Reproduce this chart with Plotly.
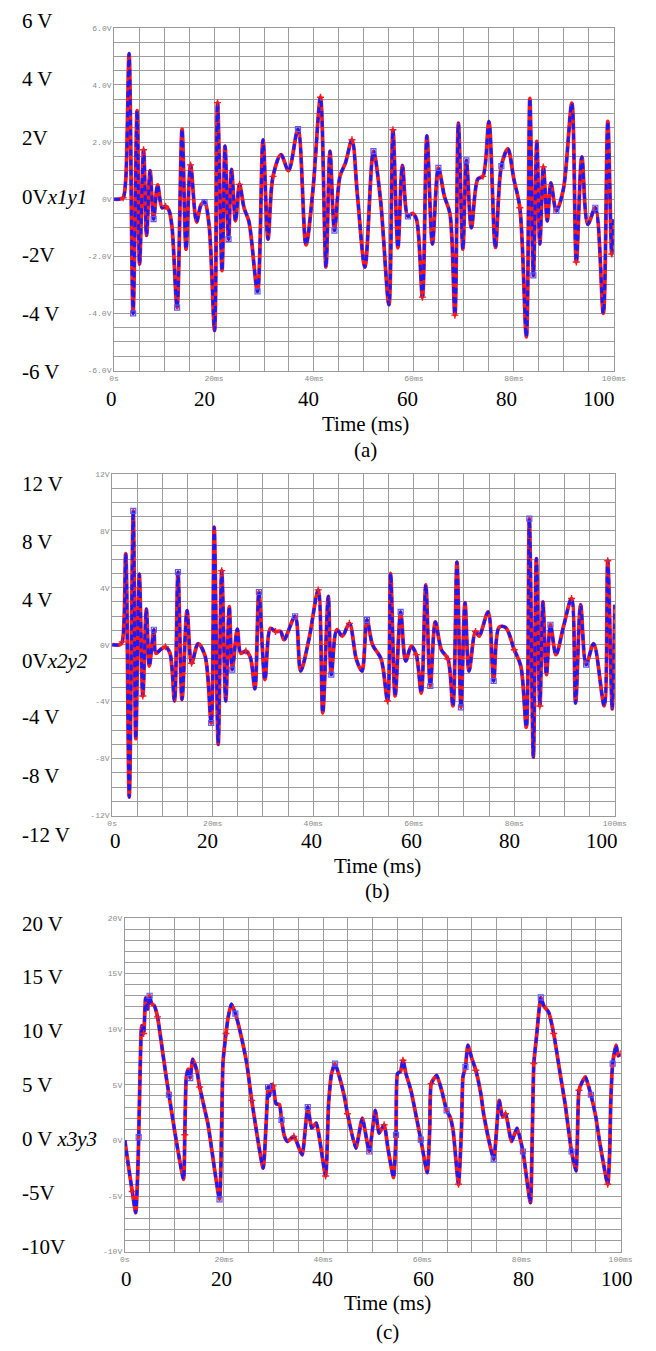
import plotly.graph_objects as go

W, H = 656, 1351

# ---------------- data (time in ms, voltage in V) ----------------
t_a = [0, 1.0, 1.8, 2.3, 3.0, 3.8, 4.6, 5.1, 5.9, 6.5,
       7.2, 7.9, 8.7, 9.6, 10.3, 11.0, 11.6, 12.6, 13.6, 14.4,
       15.3, 16.5, 17.4, 18.1, 19.0, 20.1, 20.7, 21.6, 22.2, 22.9,
       23.5, 24.3, 25.1, 26.0, 27.0, 28.7, 29.8, 30.8, 31.8, 33.4,
       34.9, 36.8, 38.4, 39.8, 41.3, 42.4, 43.2, 44.1, 45.2, 46.3,
       47.6, 48.7, 50.2, 51.9, 53.3, 55.0, 55.8, 56.8, 57.7, 58.8,
       59.7, 60.5, 61.7, 62.6, 63.7, 64.9, 66.1, 67.2, 68.2, 68.9,
       69.8, 70.5, 71.5, 72.8, 73.8, 75.0, 76.3, 77.5, 78.8, 80.0,
       81.2, 82.5, 83.2, 83.9, 84.6, 85.2, 85.9, 86.7, 87.4, 88.5,
       89.9, 91.6, 92.5, 93.6, 94.8, 96.3, 97.9, 98.8, 99.6, 100]
v_a = [0, 0, 0.05, 0.6, 5.1, -4.0, 3.1, -2.27, 1.73, -1.27,
       1.0, -0.7, 0.5, -0.3, -0.25, -0.4, -1.0, -3.8, 2.45, -1.75,
       1.2, -0.8, -0.2, -0.1, -0.9, -4.6, 3.38, -2.5, 1.86, -1.4,
       1.04, -0.76, 0.52, -0.3, -0.8, -3.23, 2.08, -1.4, 0.8, 1.56,
       1.0, 2.45, -1.6, 0.34, 3.57, -2.38, 1.68, -1.1, 0.8, 1.27,
       2.08, 0.12, -2.38, 1.68, 0.0, -3.7, 2.43, -1.7, 1.18, -0.6,
       -0.5, -0.7, -3.43, 2.22, -1.57, 1.1, 0.1, -0.5, -4.06, 2.66,
       -1.75, 1.36, -1.0, 0.71, 0.8, 2.72, -1.69, 1.16, 1.76, 0.7,
       -0.3, -4.82, 3.53, -2.67, 2.02, -1.57, 1.13, -0.76, 0.57, -0.41,
       0.34, 3.36, -2.2, 1.48, -0.88, -0.3, -4.0, 2.72, -1.92, -0.7]

t_b = [0, 1.5, 2.0, 2.7, 3.4, 4.2, 4.7, 5.4, 6.1, 6.8,
       7.4, 8.3, 8.7, 9.6, 10.6, 11.5, 12.4, 13.1, 13.9, 14.9,
       15.8, 17.1, 18.5, 19.7, 20.3, 21.1, 21.8, 22.6, 23.3, 23.9,
       24.9, 25.6, 26.6, 27.5, 28.4, 29.2, 30.4, 31.5, 32.5, 33.5,
       34.2, 36.4, 37.5, 39.2, 41.0, 41.9, 43.0, 43.6, 44.7, 45.8,
       47.2, 48.6, 49.7, 50.7, 51.8, 53.5, 54.8, 55.4, 56.3, 57.4,
       58.4, 59.5, 60.5, 61.5, 62.4, 63.3, 64.3, 65.5, 66.8, 67.8,
       68.6, 69.4, 70.2, 71.0, 72.3, 73.0, 74.8, 75.9, 77.0, 78.3,
       80.0, 81.3, 82.4, 83.0, 83.8, 84.4, 85.1, 85.7, 86.4, 87.2,
       88.3, 89.8, 91.4, 92.2, 93.2, 94.3, 95.8, 97.9, 98.6, 99.5, 100]
v_b = [0, 0, 0.2, 6.4, -10.7, 9.4, -6.6, 4.95, -3.6, 2.5,
       -1.5, 1.05, -0.6, -0.35, -0.15, -0.6, -3.95, 5.1, -3.85, 2.4,
       -1.3, 0.07, -0.8, -5.5, 8.25, -7.0, 5.2, -3.95, 2.67, -1.75,
       1.1, -0.6, -0.45, -0.9, -3.1, 3.7, -2.45, 1.15, 0.93, 0.93,
       0.35, 2.0, -1.85, 0.47, 3.85, -4.8, 3.4, -2.1, 1.05, 0.6,
       1.5, -1.05, -1.85, 1.75, 0.0, -1.0, -3.95, 5.0, -3.6, 2.3,
       -1.15, -0.1, -0.7, -3.4, 4.2, -2.9, 1.6, -0.35, -1.0, -4.3,
       5.8, -4.4, 2.95, -1.85, 0.93, 0.6, 2.3, -2.55, 1.23, 1.2,
       -0.35, -1.5, -5.8, 8.85, -7.9, 6.05, -4.3, 3.0, -2.1, 1.4,
       -0.7, 1.28, 3.25, -4.1, 2.8, -1.4, 0.07, -4.3, 5.9, -4.5, 2.8]

t_c = [0, 0.7, 1.5, 2.2, 2.6, 2.8, 3.1, 3.4, 3.8, 4.2,
       4.6, 5.0, 5.4, 5.95, 6.6, 7.3, 8.25, 8.9, 10.4, 11.85,
       12.1, 12.4, 12.8, 13.2, 13.7, 14.5, 15.1, 16.1, 16.8, 19.1,
       19.5, 19.8, 20.4, 20.9, 21.5, 22.3, 23.3, 24.6, 25.6, 27.9,
       28.5, 28.9, 29.2, 29.5, 29.9, 30.5, 31.2, 31.6, 32.2, 32.8,
       34.1, 35.4, 35.8, 36.9, 37.7, 38.6, 40.5, 41.1, 41.7, 42.4,
       43.3, 44.3, 44.9, 46.6, 47.9, 49.3, 50.5, 51.3, 52.3, 53.1,
       54.2, 54.7, 55.0, 55.6, 56.1, 56.7, 57.7, 59.7, 61.0, 61.5,
       61.8, 62.9, 63.9, 64.9, 65.6, 66.2, 67.3, 67.9, 68.2, 68.7,
       69.2, 70.0, 70.8, 71.8, 72.4, 74.4, 75.5, 76.2, 76.8, 78.0,
       79.1, 80.3, 81.8, 82.2, 82.5, 83.1, 83.5, 83.9, 84.5, 85.5,
       86.5, 87.8, 88.8, 90.1, 91.0, 91.3, 91.6, 92.3, 92.9, 94.0,
       95.0, 95.7, 97.4, 97.8, 98.0, 98.4, 99.1, 99.5, 100]
v_c = [0, -2.2, -4.6, -6.5, -3.0, 0.3, 6.5, 10.3, 9.6, 12.8,
       11.8, 13.0, 12.3, 12.1, 11.1, 9.0, 6.0, 4.1, -0.1, -3.5,
       0.5, 5.7, 6.4, 5.6, 7.3, 6.3, 4.8, 2.8, 1.4, -5.3,
       0.5, 7.0, 9.6, 11.2, 12.25, 11.4, 9.7, 6.9, 3.6, -2.5,
       1.5, 4.8, 4.0, 5.0, 4.9, 3.3, 3.2, 1.85, 0.36, -0.1,
       0.36, -1.0, -1.3, 3.0, 1.1, 1.55, -3.2, 3.3, 6.0, 6.9,
       5.7, 3.9, 2.4, -0.7, 2.0, -1.0, 2.7, 0.65, 1.4, -0.8,
       -3.35, 0.5, 6.0, 6.2, 7.2, 6.0, 4.5, 0.06, -2.9, 1.0,
       5.1, 5.85, 4.5, 2.7, 2.1, 0.95, -3.95, 1.0, 5.7, 6.6,
       8.55, 7.35, 6.3, 4.2, 2.3, -1.7, 3.6, 2.1, 2.4, -0.1,
       1.1, -1.0, -5.6, 1.0, 6.9, 9.6, 11.5, 12.85, 12.1, 11.5,
       9.6, 6.0, 3.3, -1.0, -2.75, 0.5, 4.5, 5.3, 5.7, 4.1,
       2.1, 0.06, -3.95, -1.0, 3.3, 6.9, 8.55, 7.6, 7.8]

x_tick_vals = [0, 20, 40, 60, 80, 100]
x_small_text = ["0s", "20ms", "40ms", "60ms", "80ms", "100ms"]
x_big_text = ["0", "20", "40", "60", "80", "100"]

y_vals_a = [6, 4, 2, 0, -2, -4, -6]
y_small_a = ["6.0V", "4.0V", "2.0V", "0V", "-2.0V", "-4.0V", "-6.0V"]
y_big_a = ["6 V", "4 V", "2V", "0V<i>x1y1</i>", "-2V", "-4 V", "-6 V"]

y_vals_b = [12, 8, 4, 0, -4, -8, -12]
y_small_b = ["12V", "8V", "4V", "0V", "-4V", "-8V", "-12V"]
y_big_b = ["12 V", "8 V", "4 V", "0V<i>x2y2</i>", "-4 V", "-8 V", "-12 V"]

y_vals_c = [20, 15, 10, 5, 0, -5, -10]
y_small_c = ["20V", "15V", "10V", "5V", "0V", "-5V", "-10V"]
y_big_c = ["20 V", "15 V", "10 V", "5 V", "0 V <i>x3y3</i>", "-5V", "-10V"]

panel_tags = ["(a)", "(b)", "(c)"]

# ---------------- layout geometry (pixels) ----------------
panels = [
    dict(t=t_a, v=v_a, x0=112, x1=625, y0=24, y1=369, yr=[-6, 6], ydt=0.5,
         yv=y_vals_a, ys=y_small_a, yb=y_big_a,
         ybig_px=[17, 76, 135, 194, 253, 312, 370], ybig_x=15,
         xbig_px=[109, 205, 312, 413, 515, 610], xbig_y=398,
         title_x=370, time_y=423, tag_y=449),
    dict(t=t_b, v=v_b, x0=110, x1=626, y0=473, y1=817, yr=[-12, 12], ydt=1,
         yv=y_vals_b, ys=y_small_b, yb=y_big_b,
         ybig_px=[483, 542, 600, 661, 718, 777, 837], ybig_x=15,
         xbig_px=[113, 208, 315, 417, 518, 613], xbig_y=843,
         title_x=382, time_y=868, tag_y=893),
    dict(t=t_c, v=v_c, x0=123, x1=632, y0=920, y1=1256, yr=[-10, 20], ydt=1,
         yv=y_vals_c, ys=y_small_c, yb=y_big_c,
         ybig_px=[926, 980, 1034, 1088, 1143, 1197, 1251], ybig_x=15,
         xbig_px=[125, 222, 326, 430, 532, 628], xbig_y=1284,
         title_x=393, time_y=1308, tag_y=1337),
]

RED = "#ff1a1a"
BLUE = "#1a1aff"
GRID = "#9c9c9c"
SERIF = "Liberation Serif"
MONO = "Liberation Mono"

fig = go.Figure()
annotations = []
layout_axes = {}

for i, p in enumerate(panels):
    n = "" if i == 0 else str(i + 1)
    xa, ya = "x" + n, "y" + n
    smooth = 0.9 if i < 2 else 0.5
    fig.add_trace(go.Scatter(x=p["t"], y=p["v"], xaxis=xa, yaxis=ya, mode="lines",
                             line=dict(color=RED, width=3.8, shape="spline", smoothing=smooth),
                             showlegend=False, hoverinfo="skip"))
    fig.add_trace(go.Scatter(x=p["t"], y=p["v"], xaxis=xa, yaxis=ya, mode="lines",
                             line=dict(color=BLUE, width=3, dash="6px,4px", shape="spline",
                                       smoothing=smooth),
                             showlegend=False, hoverinfo="skip"))
    fig.add_trace(go.Scatter(x=p["t"][2::6], y=p["v"][2::6], xaxis=xa, yaxis=ya, mode="markers",
                             marker=dict(symbol="cross-thin", size=5,
                                         line=dict(color=RED, width=1.4)),
                             showlegend=False, hoverinfo="skip"))
    fig.add_trace(go.Scatter(x=p["t"][5::6], y=p["v"][5::6], xaxis=xa, yaxis=ya, mode="markers",
                             marker=dict(symbol="square-open", size=5, color="#5a5aff",
                                         line=dict(width=1.2)),
                             showlegend=False, hoverinfo="skip"))

    layout_axes["xaxis" + n] = dict(
        domain=[p["x0"] / W, p["x1"] / W], range=[0, 100], anchor=ya,
        tickmode="array", tickvals=x_tick_vals, ticktext=x_small_text,
        tickfont=dict(family=MONO, size=8, color="#8a8a8a"),
        showgrid=True, gridcolor=GRID, gridwidth=1, zeroline=False,
        minor=dict(tickmode="array", tickvals=list(range(0, 101, 5)),
                   showgrid=True, gridcolor=GRID, gridwidth=1),
        showline=True, mirror=True, linecolor="#9a9a9a", linewidth=1,
        ticks="", fixedrange=True)
    layout_axes["yaxis" + n] = dict(
        domain=[1 - p["y1"] / H, 1 - p["y0"] / H], range=p["yr"], anchor=xa,
        tickmode="array", tickvals=p["yv"], ticktext=p["ys"],
        tickfont=dict(family=MONO, size=8, color="#8a8a8a"),
        showgrid=True, gridcolor=GRID, gridwidth=1, zeroline=False,
        minor=dict(dtick=p["ydt"], tick0=0, showgrid=True, gridcolor=GRID, gridwidth=1),
        showline=True, mirror=True, linecolor="#9a9a9a", linewidth=1,
        ticks="", fixedrange=True)

    for txt, ypx in zip(p["yb"], p["ybig_px"]):
        annotations.append(dict(text=txt, x=p["ybig_x"] / W, y=1 - ypx / H,
                                xref="paper", yref="paper", xanchor="left", yanchor="middle",
                                showarrow=False, font=dict(family=SERIF, size=21, color="black")))
    for txt, xpx in zip(x_big_text, p["xbig_px"]):
        annotations.append(dict(text=txt, x=xpx / W, y=1 - p["xbig_y"] / H,
                                xref="paper", yref="paper", xanchor="center", yanchor="middle",
                                showarrow=False, font=dict(family=SERIF, size=21, color="black")))
    annotations.append(dict(text="Time (ms)", x=p["title_x"] / W, y=1 - p["time_y"] / H,
                            xref="paper", yref="paper", xanchor="center", yanchor="middle",
                            showarrow=False, font=dict(family=SERIF, size=21, color="black")))
    annotations.append(dict(text=panel_tags[i], x=p["title_x"] / W, y=1 - p["tag_y"] / H,
                            xref="paper", yref="paper", xanchor="center", yanchor="middle",
                            showarrow=False, font=dict(family=SERIF, size=21, color="black")))

fig.update_layout(width=W, height=H, margin=dict(l=0, r=0, t=0, b=0),
                  paper_bgcolor="white", plot_bgcolor="white",
                  annotations=annotations, **layout_axes)

fig.write_html("out.html")
